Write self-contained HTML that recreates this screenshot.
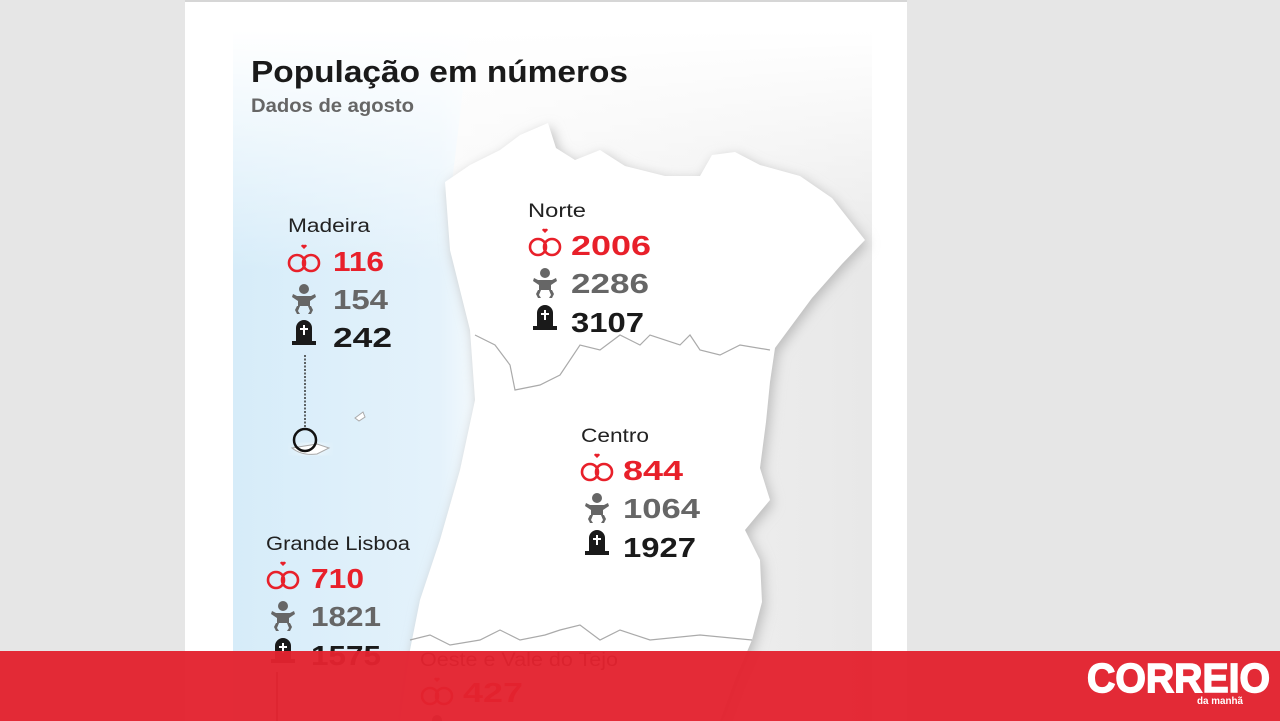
<!DOCTYPE html>
<html><head><meta charset="utf-8"><style>
html,body{margin:0;padding:0;width:1280px;height:721px;overflow:hidden;background:#e6e6e6}
svg{display:block}
text{font-family:"Liberation Sans","DejaVu Sans",sans-serif;font-weight:bold}
</style></head><body>
<svg width="1280" height="721" viewBox="0 0 1280 721">
<defs>
<linearGradient id="bl" x1="0" y1="0" x2="1" y2="0">
<stop offset="0" stop-color="#d6ecf9"/><stop offset="0.85" stop-color="#e4f2fb"/><stop offset="1" stop-color="#f3f9fd"/>
</linearGradient>
<linearGradient id="gr" x1="0" y1="0" x2="1" y2="0">
<stop offset="0" stop-color="#ffffff"/><stop offset="1" stop-color="#e8e8e8"/>
</linearGradient>
<linearGradient id="fade" x1="0" y1="0" x2="0" y2="1">
<stop offset="0" stop-color="#fff" stop-opacity="1"/><stop offset="0.35" stop-color="#fff" stop-opacity="0"/>
</linearGradient>
<filter id="sh" x="-10%" y="-10%" width="120%" height="120%"><feGaussianBlur stdDeviation="6"/></filter>
<g id="rings"><circle cx="-7" cy="6" r="8" fill="none" stroke="#e8202a" stroke-width="2.6"/><circle cx="7" cy="6" r="8" fill="none" stroke="#e8202a" stroke-width="2.6"/><path d="M0,-8 l-3,-3 a2,2 0 0 1 3,-1 a2,2 0 0 1 3,1 z" fill="#e8202a"/></g>
<g id="baby" fill="#666"><circle cx="0" cy="-8" r="5"/><path d="M-11,-3 l4,2 h14 l4,-2 l1,3 l-6,4 v5 h-12 v-5 l-6,-4 z"/><path d="M-7,9 l3,0 -2,5 2,3 -3,0 -2,-4z M7,9 l-3,0 2,5 -2,3 3,0 2,-4z"/></g>
<g id="grave" fill="#1a1a1a"><path d="M-8,8 v-14 a8,8 0 0 1 16,0 v14z"/><rect x="-12" y="7" width="24" height="4"/><rect x="-1" y="-9" width="2" height="10" fill="#fff"/><rect x="-4" y="-6" width="8" height="2" fill="#fff"/></g>
</defs>
<rect x="185" y="0" width="722" height="721" fill="#fff"/>
<rect x="185" y="0" width="722" height="2" fill="#d6d6d6"/>
<rect x="233" y="30" width="639" height="691" fill="url(#gr)"/>
<path d="M233,30 H470 L450,200 470,330 475,400 460,470 440,540 420,600 405,721 H233Z" fill="url(#bl)"/>
<rect x="233" y="30" width="639" height="691" fill="url(#fade)"/>
<g id="map">
<path d="M445,182 L470,165 500,150 520,135 548,123 556,148 575,160 600,150 625,166 665,176 700,176 712,155 735,152 760,165 800,176 832,198 865,240 842,264 812,298 775,348 770,382 766,422 760,468 770,500 745,530 760,560 762,602 752,640 735,680 720,721 400,721 410,650 420,600 440,540 460,470 475,400 470,330 450,250 Z" fill="#bbb" filter="url(#sh)" transform="translate(3,4)"/>
<path d="M445,182 L470,165 500,150 520,135 548,123 556,148 575,160 600,150 625,166 665,176 700,176 712,155 735,152 760,165 800,176 832,198 865,240 842,264 812,298 775,348 770,382 766,422 760,468 770,500 745,530 760,560 762,602 752,640 735,680 720,721 400,721 410,650 420,600 440,540 460,470 475,400 470,330 450,250 Z" fill="#fff"/>
<polyline points="475,335 495,345 510,365 515,390 540,385 560,375 580,345 600,350 620,335 640,345 650,335 680,345 690,335 700,350 720,355 740,345 770,350" fill="none" stroke="#aaa" stroke-width="1.2"/>
<polyline points="410,640 430,635 450,645 480,640 500,630 520,640 545,635 560,630 580,625 600,640 620,630 650,640 700,635 752,640" fill="none" stroke="#aaa" stroke-width="1.2"/>
</g>
<text x="251" y="82" font-size="31" fill="#1a1a1a" textLength="377" lengthAdjust="spacingAndGlyphs">População em números</text>
<text x="251" y="112" font-size="19" fill="#666" textLength="163" lengthAdjust="spacingAndGlyphs">Dados de agosto</text>
<line x1="305" y1="355" x2="305" y2="428" stroke="#333" stroke-width="1.5" stroke-dasharray="2,1.5"/>
<path d="M292,448 q10,8 25,6 l12,-6 -12,-4z" fill="#fff" filter="url(#sh)"/>
<path d="M292,448 q10,8 25,6 l12,-6 -12,-4z" fill="#fff" stroke="#aaa"/>
<circle cx="305" cy="440" r="11" fill="none" stroke="#111" stroke-width="2.5"/>
<path d="M355,418 l8,-6 2,5 -6,4z" fill="#fff" stroke="#aaa"/>
<text x="288" y="232" font-size="19" fill="#222" style="font-weight:normal" textLength="82" lengthAdjust="spacingAndGlyphs">Madeira</text>
<use href="#rings" x="304" y="257"/><text x="333" y="271" font-size="28" fill="#e8202a" textLength="51" lengthAdjust="spacingAndGlyphs">116</text>
<use href="#baby" x="304" y="297"/><text x="333" y="309" font-size="28" fill="#666" textLength="55" lengthAdjust="spacingAndGlyphs">154</text>
<use href="#grave" x="304" y="334"/><text x="333" y="347" font-size="28" fill="#1a1a1a" textLength="59" lengthAdjust="spacingAndGlyphs">242</text>
<text x="528" y="217" font-size="19" fill="#222" style="font-weight:normal" textLength="58" lengthAdjust="spacingAndGlyphs">Norte</text>
<use href="#rings" x="545" y="241"/><text x="571" y="255" font-size="28" fill="#e8202a" textLength="80" lengthAdjust="spacingAndGlyphs">2006</text>
<use href="#baby" x="545" y="281"/><text x="571" y="293" font-size="28" fill="#666" textLength="78" lengthAdjust="spacingAndGlyphs">2286</text>
<use href="#grave" x="545" y="319"/><text x="571" y="332" font-size="28" fill="#1a1a1a" textLength="73" lengthAdjust="spacingAndGlyphs">3107</text>
<text x="581" y="442" font-size="19" fill="#222" style="font-weight:normal" textLength="68" lengthAdjust="spacingAndGlyphs">Centro</text>
<use href="#rings" x="597" y="466"/><text x="623" y="480" font-size="28" fill="#e8202a" textLength="60" lengthAdjust="spacingAndGlyphs">844</text>
<use href="#baby" x="597" y="506"/><text x="623" y="518" font-size="28" fill="#666" textLength="77" lengthAdjust="spacingAndGlyphs">1064</text>
<use href="#grave" x="597" y="544"/><text x="623" y="557" font-size="28" fill="#1a1a1a" textLength="73" lengthAdjust="spacingAndGlyphs">1927</text>
<text x="266" y="550" font-size="19" fill="#222" style="font-weight:normal" textLength="144" lengthAdjust="spacingAndGlyphs">Grande Lisboa</text>
<use href="#rings" x="283" y="574"/><text x="311" y="588" font-size="28" fill="#e8202a" textLength="53" lengthAdjust="spacingAndGlyphs">710</text>
<use href="#baby" x="283" y="614"/><text x="311" y="626" font-size="28" fill="#666" textLength="70" lengthAdjust="spacingAndGlyphs">1821</text>
<use href="#grave" x="283" y="652"/><text x="311" y="665" font-size="28" fill="#1a1a1a" textLength="70" lengthAdjust="spacingAndGlyphs">1575</text>
<line x1="277" y1="672" x2="277" y2="721" stroke="#333" stroke-width="1.5"/>
<text x="420" y="666" font-size="19" fill="#222" style="font-weight:normal" textLength="198" lengthAdjust="spacingAndGlyphs">Oeste e Vale do Tejo</text>
<use href="#rings" x="437" y="690"/><text x="463" y="702" font-size="28" fill="#e8202a" textLength="60" lengthAdjust="spacingAndGlyphs">427</text>
<use href="#baby" x="437" y="728"/>
<rect x="0" y="651" width="1280" height="70" fill="#e3222f" fill-opacity="0.96"/>
<text x="1087" y="692" font-size="41" fill="#fff" stroke="#fff" stroke-width="1.5" textLength="183" lengthAdjust="spacingAndGlyphs">CORREIO</text>
<text x="1197" y="704" font-size="10" fill="#fff" textLength="46" lengthAdjust="spacingAndGlyphs">da manhã</text>
</svg>
</body></html>
